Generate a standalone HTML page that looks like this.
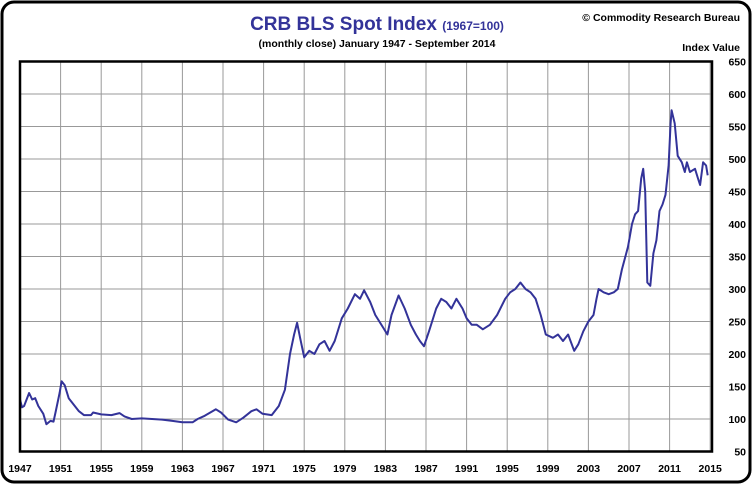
<!DOCTYPE html>
<html><head><meta charset="utf-8"><style>
html,body{margin:0;padding:0;background:#fff;}
svg{display:block;font-family:"Liberation Sans",sans-serif;}
</style></head><body>
<svg id="chart" width="753" height="486" viewBox="0 0 753 486">
<rect x="2" y="2" width="748" height="480" rx="12" ry="12" fill="#fff" stroke="#000" stroke-width="3"/>
<text x="377" y="30" text-anchor="middle" font-size="19" font-weight="bold" fill="#333399">CRB BLS Spot Index <tspan font-size="12">(1967=100)</tspan></text>
<text x="377" y="47" text-anchor="middle" font-size="10.5" font-weight="bold" fill="#000">(monthly close) January 1947 - September 2014</text>
<text x="740" y="21" text-anchor="end" font-size="10.5" font-weight="bold" fill="#000">© Commodity Research Bureau</text>
<text x="740" y="51" text-anchor="end" font-size="10.5" font-weight="bold" fill="#000">Index Value</text>
<g id="grid"></g>
<g id="xlabels"></g>
<g id="ylabels"></g>
<path id="series" fill="none" stroke="#333399" stroke-width="2" stroke-linejoin="round"/>
<rect x="20" y="61.5" width="692" height="390" fill="none" stroke="#000" stroke-width="2.5"/>
</svg>
<script>
const years=[1947,1947.2,1947.4,1947.9,1948.2,1948.5,1948.8,1949.3,1949.6,1950.0,1950.3,1950.5,1950.9,1951.1,1951.4,1951.8,1952.3,1952.8,1953.3,1954.0,1954.2,1955,1956,1956.8,1957.3,1958,1959,1960,1961,1962,1963,1964,1964.5,1965.2,1966.3,1966.8,1967.5,1968.3,1969,1969.8,1970.3,1970.9,1971.8,1972.5,1973.1,1973.6,1974.0,1974.3,1974.6,1975.0,1975.5,1976,1976.5,1977,1977.5,1978,1978.7,1979.3,1980,1980.5,1980.9,1981.5,1982,1982.8,1983.2,1983.6,1984.3,1984.9,1985.5,1986,1986.4,1986.8,1987.3,1988,1988.5,1989,1989.5,1990,1990.6,1991,1991.5,1992,1992.6,1993.3,1994,1994.8,1995.3,1995.8,1996.3,1996.8,1997.3,1997.8,1998.3,1998.8,1999.5,2000,2000.5,2001,2001.6,2002,2002.5,2003,2003.5,2003.8,2004.0,2004.5,2005.0,2005.5,2005.9,2006.3,2006.9,2007.3,2007.6,2007.9,2008.2,2008.4,2008.6,2008.8,2009.1,2009.4,2009.7,2010.0,2010.3,2010.6,2010.9,2011.1,2011.2,2011.5,2011.8,2012.2,2012.5,2012.7,2013.0,2013.5,2013.8,2014.0,2014.3,2014.6,2014.75];
const values=[130,118,120,140,130,132,120,108,92,97,96,110,140,158,152,132,122,112,106,106,110,107,106,109,104,100,101,100,99,97,95,95,100,105,115,110,99,95,102,112,115,108,106,120,145,200,230,248,225,195,205,200,215,220,205,220,255,270,292,285,298,280,260,240,230,260,290,270,245,230,220,212,235,270,285,280,270,285,270,255,245,245,238,245,260,285,295,300,310,300,295,285,260,230,225,230,220,230,205,215,235,250,260,285,300,295,292,295,300,330,365,400,415,420,470,485,450,310,305,355,375,420,430,445,490,555,575,555,505,495,480,495,480,485,470,460,495,490,475];
const xTicks=[1947,1951,1955,1959,1963,1967,1971,1975,1979,1983,1987,1991,1995,1999,2003,2007,2011,2015];
const yTicks=[50,100,150,200,250,300,350,400,450,500,550,600,650];
const X=y=>20+(y-1947)*10.15;
const Y=v=>451.5-(v-50)*0.65;
const NS="http://www.w3.org/2000/svg";
const grid=document.getElementById('grid'),xl=document.getElementById('xlabels'),yl=document.getElementById('ylabels');
xTicks.forEach(t=>{
 const l=document.createElementNS(NS,'line');
 l.setAttribute('x1',X(t));l.setAttribute('x2',X(t));l.setAttribute('y1',61.5);l.setAttribute('y2',451.5);
 l.setAttribute('stroke','#999');l.setAttribute('stroke-width','1');
 
 
 grid.appendChild(l);
 const tx=document.createElementNS(NS,'text');
 tx.setAttribute('x',X(t));tx.setAttribute('y',472);tx.setAttribute('text-anchor','middle');
 tx.setAttribute('font-size','10.5');tx.setAttribute('font-weight','bold');
 tx.textContent=t;
 
 
 xl.appendChild(tx);
});
yTicks.forEach(t=>{
 const l=document.createElementNS(NS,'line');
 l.setAttribute('x1',20);l.setAttribute('x2',712);l.setAttribute('y1',Y(t));l.setAttribute('y2',Y(t));
 l.setAttribute('stroke','#999');l.setAttribute('stroke-width','1');
 
 
 grid.appendChild(l);
 const tx=document.createElementNS(NS,'text');
 tx.setAttribute('x',746);tx.setAttribute('y',Y(t)+4);tx.setAttribute('text-anchor','end');
 tx.setAttribute('font-size','10.5');tx.setAttribute('font-weight','bold');
 tx.textContent=t;
 
 
 yl.appendChild(tx);
});
document.getElementById('series').setAttribute('d',years.map((y,i)=>(i?'L':'M')+X(y).toFixed(1)+','+Y(values[i]).toFixed(1)).join(''));
</script>
</body></html>
